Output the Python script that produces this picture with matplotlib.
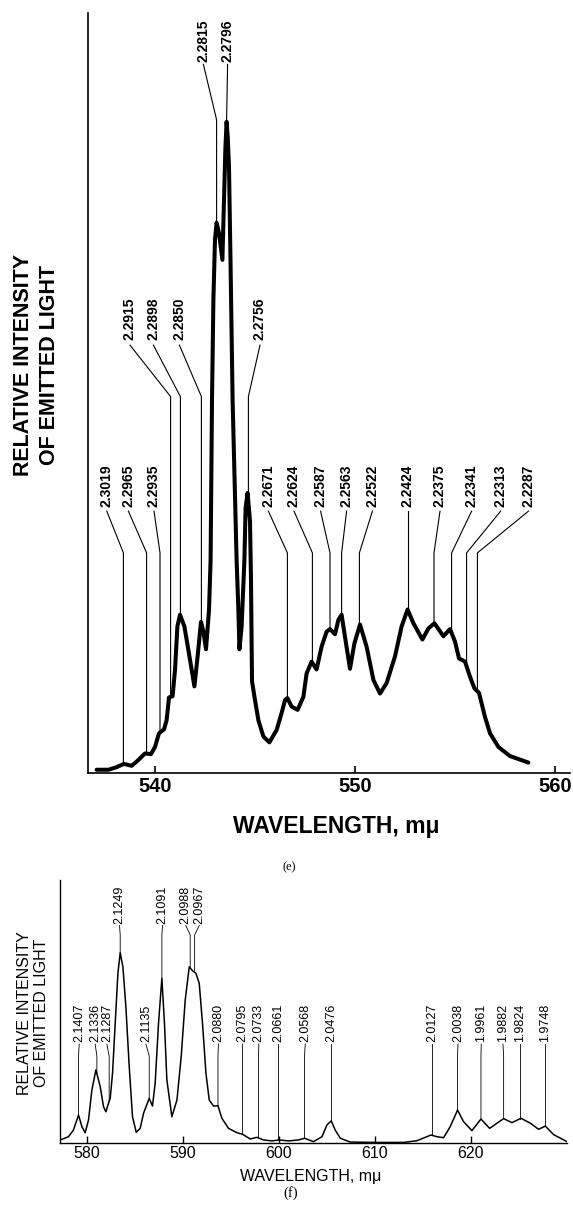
import numpy as np
import matplotlib
matplotlib.use("Agg")
import matplotlib.pyplot as plt

# Emission spectra (e) and (f): relative intensity vs wavelength (m\u03bc),
# peaks annotated with their photon energies in eV.

# ---- spectrum (e) ----
e_nm = [537.08, 537.67, 538.08, 538.45, 538.83, 539.17, 539.50, 539.80, 540.00, 540.20,
        540.45, 540.58, 540.70, 540.88, 541.00, 541.12, 541.25, 541.47, 541.75, 541.97,
        542.13, 542.30, 542.42, 542.55, 542.70, 542.78, 542.85, 542.92, 543.00, 543.08,
        543.20, 543.37, 543.45, 543.52, 543.58, 543.64, 543.70, 543.78, 543.88, 544.08,
        544.17, 544.22, 544.33, 544.47, 544.53, 544.63, 544.75, 544.80, 544.85, 545.00,
        545.17, 545.42, 545.72, 546.08, 546.33, 546.50, 546.62, 546.83, 547.13, 547.42,
        547.58, 547.83, 548.08, 548.33, 548.58, 548.75, 549.00, 549.17, 549.33, 549.50,
        549.75, 549.97, 550.25, 550.58, 550.92, 551.25, 551.58, 552.00, 552.33, 552.63,
        552.92, 553.37, 553.67, 553.97, 554.42, 554.75, 555.00, 555.20, 555.50, 555.75,
        555.97, 556.20, 556.50, 556.75, 557.17, 557.75, 558.67]
e_int = [0.5, 0.5, 0.9, 1.4, 1.1, 2.0, 3.0, 2.9, 4.0, 6.1,
         6.7, 8.1, 11.6, 11.8, 15.8, 22.5, 24.3, 22.5, 17.4, 13.3,
         17.9, 23.2, 21.7, 19.0, 25.0, 32.7, 57.3, 72.7, 81.9, 84.5,
         82.9, 78.8, 88.0, 96.0, 100.0, 97.5, 93.1, 77.7, 57.3, 32.7,
         25.0, 19.0, 22.4, 32.7, 40.7, 43.0, 38.7, 29.5, 14.1, 11.2,
         8.1, 5.6, 4.7, 6.6, 9.2, 11.2, 11.5, 10.2, 9.7, 11.7,
         15.3, 17.1, 15.9, 19.4, 21.7, 22.1, 21.3, 23.5, 24.3, 20.9,
         16.0, 19.9, 22.8, 19.4, 14.3, 12.2, 13.8, 17.9, 22.5, 25.1,
         23.0, 20.5, 22.2, 23.0, 21.0, 22.1, 20.2, 17.6, 17.1, 14.8,
         13.0, 12.3, 8.6, 6.1, 4.0, 2.6, 1.6]

e_labels = ["2.3019", "2.2965", "2.2935", "2.2915", "2.2898", "2.2850", "2.2815",
            "2.2796", "2.2756", "2.2671", "2.2624", "2.2587", "2.2563", "2.2522",
            "2.2424", "2.2375", "2.2341", "2.2313", "2.2287"]
# wavelength each label points at
e_line_nm = [538.42, 539.58, 540.25, 540.78, 541.27, 542.32, 543.08,
             543.58, 544.67, 546.62, 547.87, 548.75, 549.33, 550.22,
             552.63, 553.95, 554.83, 555.58, 556.12]

# ---- spectrum (f) ----
f_nm = [577.22, 578.08, 578.60, 579.13, 579.48, 579.82, 580.17, 580.52, 580.94, 581.39,
        581.73, 581.98, 582.25, 582.43, 582.67, 582.95, 583.23, 583.47, 583.75, 584.06,
        584.41, 584.75, 585.14, 585.55, 585.90, 586.49, 586.83, 587.11, 587.46, 587.81,
        588.08, 588.33, 588.85, 589.38, 589.82, 590.24, 590.66, 591.00, 591.35, 591.70,
        592.04, 592.40, 592.74, 593.19, 593.65, 594.06, 594.75, 595.63, 596.21, 597.01,
        597.70, 598.40, 599.27, 600.03, 601.00, 602.04, 602.67, 603.60, 604.48, 605.00,
        605.45, 605.86, 606.39, 607.43, 610.20, 612.98, 614.38, 615.06, 615.83, 616.46,
        617.15, 617.84, 618.60, 619.23, 620.10, 621.04, 621.94, 622.71, 623.40, 624.27,
        625.21, 626.18, 627.04, 627.74, 628.61, 629.93]
f_int = [1.6, 3.3, 6.8, 14.7, 8.6, 5.4, 12.1, 27.9, 38.4, 29.6,
         19.1, 16.4, 20.9, 23.5, 36.6, 62.9, 89.2, 100.0, 92.6, 71.6,
         40.1, 13.8, 5.6, 7.7, 15.6, 23.5, 19.4, 31.4, 62.9, 86.5,
         62.9, 33.1, 13.8, 22.6, 45.3, 75.1, 92.6, 90.5, 89.2, 83.9,
         62.9, 36.6, 22.6, 19.4, 19.6, 13.0, 7.7, 5.4, 4.6, 2.1,
         3.0, 1.6, 1.1, 1.6, 1.1, 1.6, 2.5, 0.7, 3.3, 9.5,
         11.6, 6.8, 2.5, 0.5, 0.3, 0.3, 1.2, 2.6, 4.2, 3.3,
         2.8, 8.6, 17.3, 11.2, 6.5, 12.6, 7.7, 10.4, 12.8, 10.7,
         13.0, 10.4, 7.2, 8.9, 4.4, 0.9]

f_labels = ["2.1407", "2.1336", "2.1287", "2.1249", "2.1135", "2.1091", "2.0988",
            "2.0967", "2.0880", "2.0795", "2.0733", "2.0661", "2.0568", "2.0476",
            "2.0127", "2.0038", "1.9961", "1.9882", "1.9824", "1.9748"]
f_line_nm = [579.13, 581.04, 582.32, 583.47, 586.49, 587.81, 590.76,
             591.22, 593.65, 596.21, 597.88, 599.90, 602.67, 605.45,
             615.94, 618.60, 621.04, 623.40, 625.14, 627.74]

# label placement: x of the text (nm) and which row it sits in
e_text_nm = [537.59, 538.67, 539.95, 538.75, 539.92, 541.22, 542.42,
             543.63, 545.25, 545.67, 546.95, 548.28, 549.58, 550.87,
             552.63, 554.25, 555.83, 557.28, 558.67]
e_rows = ["low", "low", "low", "mid", "mid", "mid", "top",
          "top", "mid", "low", "low", "low", "low", "low",
          "low", "low", "low", "low", "low"]
# row -> (text bottom, leader start, leader bend) in intensity units
e_row_y = {"top": (109.2, 108.8, 100.3), "mid": (66.5, 65.7, 57.8), "low": (40.9, 40.2, 33.8)}

f_text_nm = [579.20, 580.86, 582.08, 583.40, 586.15, 587.88, 590.30,
             591.70, 593.70, 596.20, 597.90, 599.90, 602.74, 605.45,
             615.94, 618.65, 621.07, 623.33, 625.14, 627.74]
f_rows = ["low", "low", "low", "top", "low", "top", "top",
          "top", "low", "low", "low", "low", "low", "low",
          "low", "low", "low", "low", "low", "low"]
f_row_y = {"top": (115.1, 114.3, 109.3), "low": (53.1, 52.0, 45.7)}

plt.rcParams["font.family"] = ["Liberation Sans", "DejaVu Sans"]

W, H = 573, 1205
fig = plt.figure(figsize=(W / 100, H / 100), dpi=100)


def axes_px(left, top, right, bottom):
    return fig.add_axes([left / W, 1 - bottom / H, (right - left) / W, (bottom - top) / H])


def annotate_peaks(ax, nm, inten, labels, line_nm, text_nm, rows, row_y, lw, size, weight):
    for lab, lx, tx, row in zip(labels, line_nm, text_nm, rows):
        base, start, bend = row_y[row]
        top = np.interp(lx, nm, inten)
        ax.plot([tx, lx, lx], [start, bend, top], color="black", lw=lw,
                solid_joinstyle="miter", clip_on=False)
        ax.text(tx, base, lab, rotation=90, ha="center", va="bottom",
                fontsize=size, fontweight=weight, clip_on=False)


def style_axes(ax, xlim, ylim, ticks, spine_w, tick_size, tick_weight, pad):
    ax.set_xlim(*xlim)
    ax.set_ylim(*ylim)
    ax.set_xticks(ticks)
    ax.set_yticks([])
    for side in ("top", "right"):
        ax.spines[side].set_visible(False)
    for side in ("left", "bottom"):
        ax.spines[side].set_linewidth(spine_w)
    ax.tick_params(axis="x", direction="in", length=5, width=spine_w, pad=pad,
                   labelsize=tick_size)
    for t in ax.get_xticklabels():
        t.set_fontweight(tick_weight)
    ax.patch.set_visible(False)


# ---- panel (e) ----
ax_e = axes_px(88, 13, 570, 773)
ax_e.plot(e_nm, e_int, color="black", lw=2.9, solid_joinstyle="round", solid_capstyle="round")
annotate_peaks(ax_e, e_nm, e_int, e_labels, e_line_nm, e_text_nm, e_rows, e_row_y,
               0.8, 10, "bold")
style_axes(ax_e, (536.65, 560.75), (0, 116.7), [540, 550, 560], 1.2, 14.5, "bold", 3)

fig.text(24 / W, 1 - 365 / H, "RELATIVE INTENSITY", rotation=90, ha="center", va="center",
         fontsize=15.5, fontweight="bold")
fig.text(50 / W, 1 - 365 / H, "OF EMITTED LIGHT", rotation=90, ha="center", va="center",
         fontsize=15.5, fontweight="bold")
fig.text(336 / W, 1 - 826 / H, "WAVELENGTH, m\u03bc", ha="center", va="center",
         fontsize=16.5, fontweight="bold")
fig.text(289 / W, 1 - 867 / H, "(e)", ha="center", va="center", fontsize=9,
         family="Liberation Serif")

# ---- panel (f) ----
ax_f = axes_px(60, 880, 567, 1143)
ax_f.plot(f_nm, f_int, color="black", lw=1.1, solid_joinstyle="round")
annotate_peaks(ax_f, f_nm, f_int, f_labels, f_line_nm, f_text_nm, f_rows, f_row_y,
               0.6, 9, "normal")
style_axes(ax_f, (577.2, 630.0), (0, 138.2), [580, 590, 600, 610, 620], 1.0, 11.5, "normal", 2.5)

fig.text(25 / W, 1 - 1013 / H, "RELATIVE INTENSITY", rotation=90, ha="center", va="center",
         fontsize=11.5)
fig.text(41.5 / W, 1 - 1013 / H, "OF EMITTED LIGHT", rotation=90, ha="center", va="center",
         fontsize=11.5)
fig.text(311 / W, 1 - 1176 / H, "WAVELENGTH, m\u03bc", ha="center", va="center", fontsize=11.5)
fig.text(291 / W, 1 - 1193 / H, "(f)", ha="center", va="center", fontsize=10.5,
         family="Liberation Serif")

fig.savefig("out.png", dpi=100, facecolor="white")
